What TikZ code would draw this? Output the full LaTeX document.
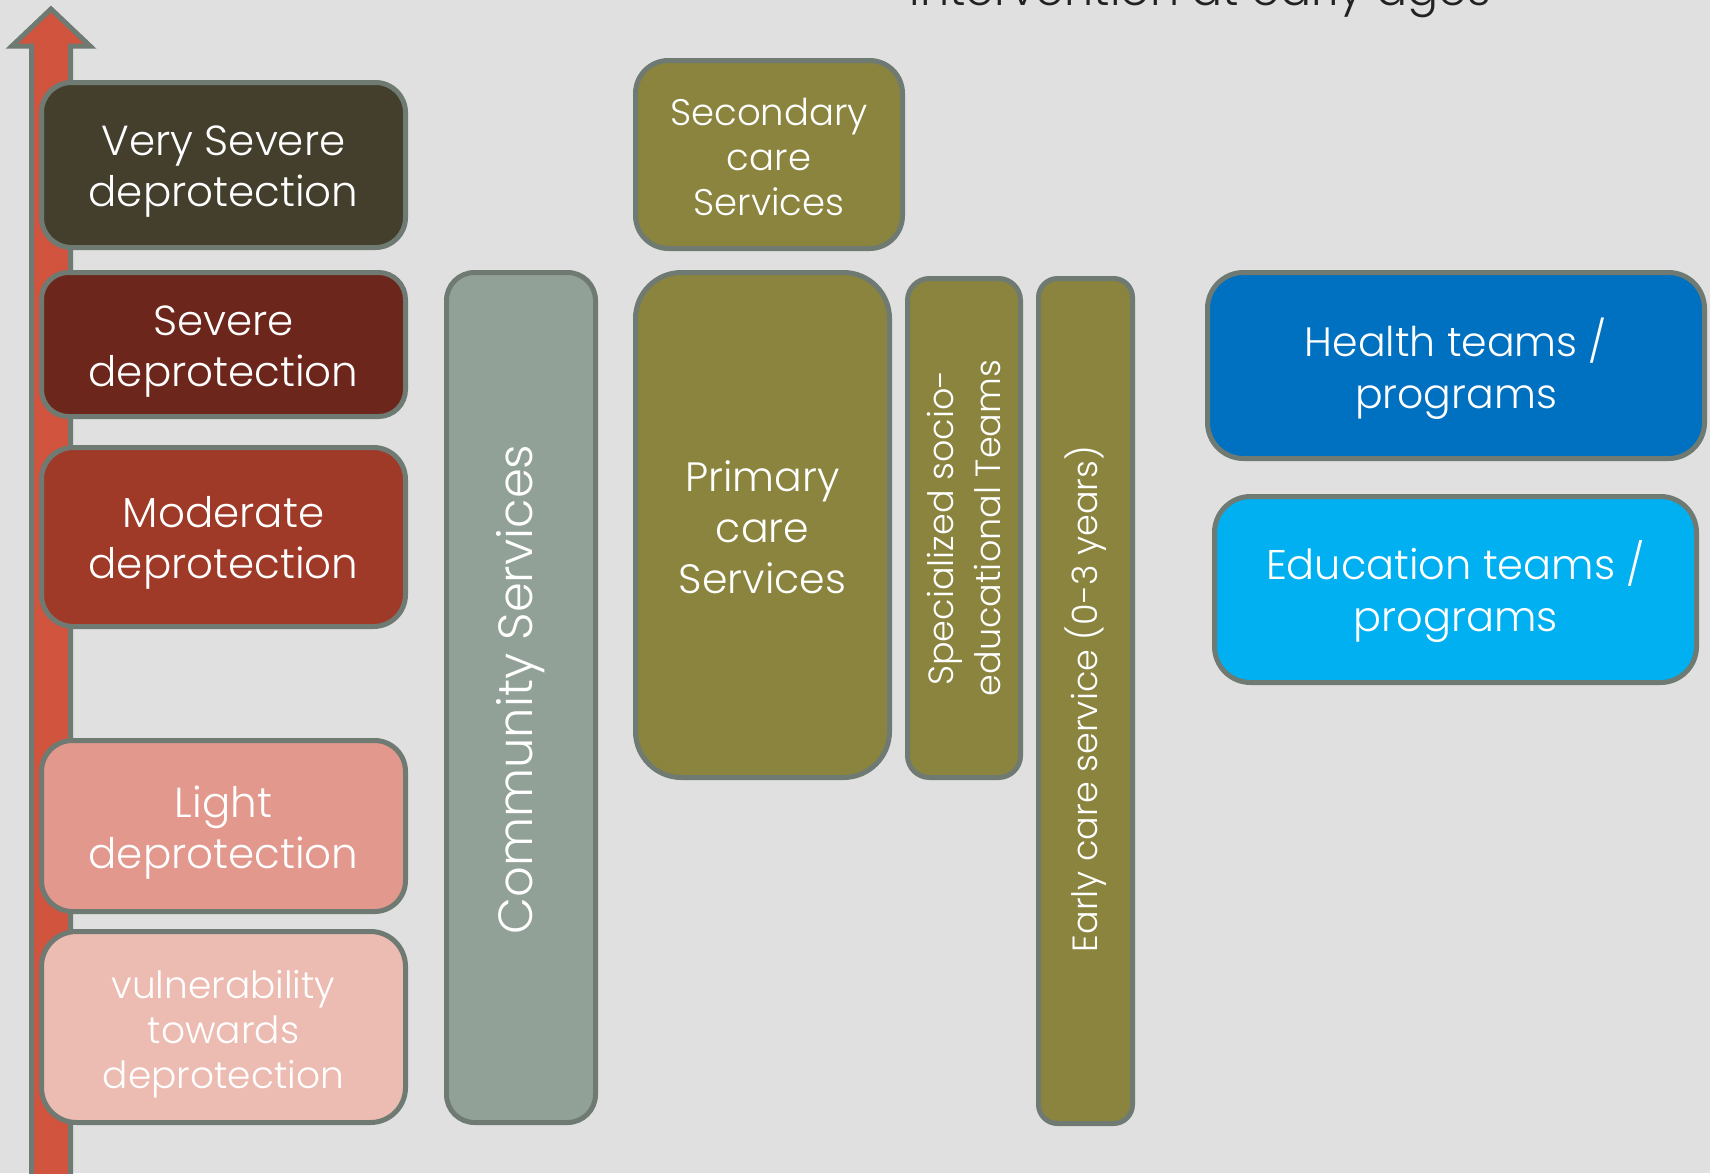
\documentclass[tikz,border=0pt]{standalone}
\usepackage{fontspec}
\setmainfont{Poppins Light}
\definecolor{bgc}{HTML}{E0E0E0}
\definecolor{bordc}{HTML}{6E7A72}
\definecolor{arrowc}{HTML}{D0543E}
\definecolor{vsc}{HTML}{433F2C}
\definecolor{sevc}{HTML}{6C261B}
\definecolor{modc}{HTML}{A03A28}
\definecolor{lightc}{HTML}{E2988D}
\definecolor{vulc}{HTML}{ECBBB1}
\definecolor{commc}{HTML}{91A197}
\definecolor{olivec}{HTML}{8A843E}
\definecolor{healthc}{HTML}{0070C0}
\definecolor{educc}{HTML}{00B0F0}
\definecolor{titlec}{HTML}{222222}
\tikzset{
  box/.style={draw=bordc, line width=5pt, inner sep=0pt},
  txt/.style={align=center, text=white, inner sep=0pt},
  big/.style={font=\fontsize{42}{51}\selectfont},
}
\begin{document}
\begin{tikzpicture}[x=1pt,y=-1pt]
\useasboundingbox (0,0) rectangle (1710,1173);
\clip (0,0) rectangle (1710,1173);
\fill[bgc] (0,0) rectangle (1710,1173);
% title (cut off at top)
\node[anchor=base, text=titlec, font=\fontsize{46}{56}\selectfont, inner sep=0pt] (title) at (1200,5) {Intervention at early ages};
% arrow
\draw[fill=arrowc, draw=bordc, line width=5pt, line join=miter] (51,9) -- (90,46) -- (70.5,46) -- (70.5,1190) -- (31.5,1190) -- (31.5,46) -- (12,46) -- cycle;
% left boxes
\node[box, fill=vsc, minimum width=364, minimum height=165, rounded corners=30] (vs) at (223.5,165) {};
\node[txt, big, yshift=-7pt] (vs-t) at (vs.center) {Very Severe\\deprotection};
\node[box, fill=sevc, minimum width=364, minimum height=144, rounded corners=27] (sev) at (223.5,344.5) {};
\node[txt, big, yshift=-7pt] (sev-t) at (sev.center) {Severe\\deprotection};
\node[box, fill=modc, minimum width=364, minimum height=179, rounded corners=32] (mod) at (223.5,537) {};
\node[txt, big, yshift=-6pt] (mod-t) at (mod.center) {Moderate\\deprotection};
\node[box, fill=lightc, minimum width=364, minimum height=171, rounded corners=31] (lig) at (223.5,826) {};
\node[txt, big, yshift=-7pt] (lig-t) at (lig.center) {Light\\deprotection};
\node[box, fill=vulc, minimum width=364, minimum height=191, rounded corners=35] (vul) at (223.5,1027) {};
\node[txt, font=\fontsize{37.5}{45}\selectfont, yshift=-7pt] (vul-t) at (vul.center) {vulnerability\\towards\\deprotection};
% community
\node[box, fill=commc, minimum width=149, minimum height=850, rounded corners=28] (comm) at (521,697.5) {};
\node[txt, rotate=90, font=\fontsize{48}{56}\selectfont, xshift=8pt] (comm-t) at (comm.center) {Community Services};
% secondary / primary
\node[box, fill=olivec, minimum width=267, minimum height=188, rounded corners=33] (sec) at (769,154.5) {};
\node[txt, font=\fontsize{37}{45}\selectfont, yshift=-2pt] (sec-t) at (sec.center) {Secondary\\care\\Services};
\node[box, fill=olivec, minimum width=254, minimum height=505, rounded corners=46] (prim) at (762.5,525) {};
\node[txt, font=\fontsize{41}{51}\selectfont, yshift=-2pt] (prim-t) at (prim.center) {Primary\\care\\Services};
\node[box, fill=olivec, minimum width=113, minimum height=499, rounded corners=22] (spec) at (964,528) {};
\node[txt, rotate=90, font=\fontsize{35}{47}\selectfont] (spec-t) at (spec.center) {Specialized socio-\\educational Teams};
\node[box, fill=olivec, minimum width=94, minimum height=845, rounded corners=19] (early) at (1085.5,701) {};
\node[txt, rotate=90, font=\fontsize{35}{45}\selectfont, xshift=2pt] (early-t) at (early.center) {Early care service (0-3 years)};
% right boxes
\node[box, fill=healthc, minimum width=497, minimum height=186, rounded corners=36] (health) at (1456,365.5) {};
\node[txt, font=\fontsize{41}{52}\selectfont, yshift=-3pt] (health-t) at (health.center) {Health teams /\\programs};
\node[box, fill=educc, minimum width=482, minimum height=186, rounded corners=36] (educ) at (1455.5,589.5) {};
\node[txt, font=\fontsize{41.5}{52}\selectfont, yshift=-2pt] (educ-t) at (educ.center) {Education teams /\\programs};
\end{tikzpicture}
\end{document}
